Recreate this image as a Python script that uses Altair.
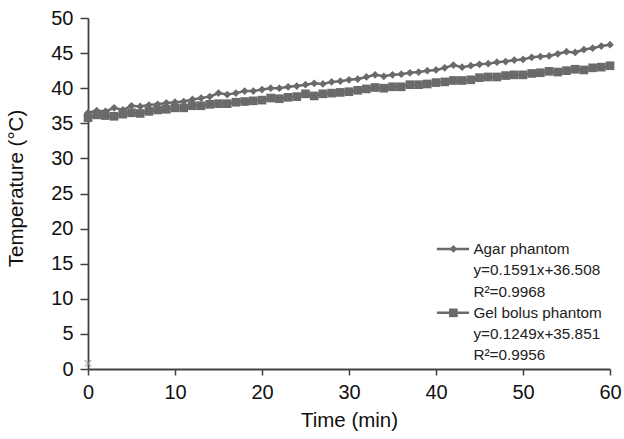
import altair as alt
import pandas as pd

time_min = list(range(0, 61))
agar = [36.5, 36.8, 36.7, 37.2, 36.9, 37.5, 37.4, 37.6, 37.7, 37.9,
        38.0, 38.1, 38.4, 38.6, 38.8, 39.3, 39.1, 39.3, 39.6, 39.6,
        39.8, 40.0, 40.0, 40.2, 40.3, 40.5, 40.7, 40.6, 40.9, 41.0,
        41.2, 41.3, 41.6, 41.9, 41.7, 41.9, 42.0, 42.2, 42.3, 42.5,
        42.6, 42.9, 43.3, 43.0, 43.2, 43.4, 43.5, 43.7, 43.8, 44.0,
        44.1, 44.4, 44.5, 44.6, 44.9, 45.2, 45.1, 45.5, 45.7, 46.0, 46.2]
gel = [35.8, 36.2, 36.1, 36.0, 36.3, 36.5, 36.4, 36.7, 36.9, 37.0,
       37.2, 37.2, 37.5, 37.5, 37.7, 37.8, 37.8, 38.0, 38.1, 38.2,
       38.3, 38.6, 38.5, 38.7, 38.8, 39.2, 38.9, 39.2, 39.3, 39.4,
       39.5, 39.7, 39.9, 40.1, 40.0, 40.2, 40.2, 40.5, 40.5, 40.6,
       40.8, 40.9, 41.1, 41.1, 41.2, 41.5, 41.6, 41.6, 41.8, 41.9,
       41.9, 42.1, 42.2, 42.4, 42.3, 42.5, 42.7, 42.6, 42.9, 43.0, 43.2]
series_names = ["Agar phantom", "Gel bolus phantom"]
equations = ["y=0.1591x+36.508", "y=0.1249x+35.851"]
r_squared = ["R\u00b2=0.9968", "R\u00b2=0.9956"]
x_ticks = [0, 10, 20, 30, 40, 50, 60]
y_ticks = [0, 5, 10, 15, 20, 25, 30, 35, 40, 45, 50]
stray_point = {"t": 0, "temp": 0.8}

GRAY = "#6a6a6a"
FONT = "Liberation Sans"

df = pd.DataFrame({
    "t": time_min * 2,
    "temp": agar + gel,
    "series": [series_names[0]] * len(agar) + [series_names[1]] * len(gel),
})

xs = alt.Scale(domain=[0, 60], nice=False, zero=False)
ys = alt.Scale(domain=[0, 50], nice=False)
shape_scale = alt.Scale(domain=series_names, range=["diamond", "square"])
size_scale = alt.Scale(domain=series_names, range=[60, 75])

x_enc = alt.X("t:Q", scale=xs, title="Time (min)",
              axis=alt.Axis(values=x_ticks, grid=False, tickSize=6,
                            labelFontSize=20, titleFontSize=20.5, labelPadding=7,
                            titlePadding=8, labelFlush=False, labelOverlap=False))
y_enc = alt.Y("temp:Q", scale=ys, title="Temperature (\u00b0C)",
              axis=alt.Axis(values=y_ticks, grid=False, tickSize=8,
                            labelFontSize=20, titleFontSize=20.5, labelPadding=7,
                            labelOverlap=False, labelFlush=False,
                            titleX=-72, titleY=170, titleAlign="center",
                            titleBaseline="middle", titleAngle=-90))

lines = alt.Chart(df).mark_line(color=GRAY, strokeWidth=2.5).encode(
    x=x_enc, y=y_enc, detail="series:N")
points = alt.Chart(df).mark_point(color=GRAY, filled=True, opacity=1).encode(
    x=x_enc, y=y_enc,
    shape=alt.Shape("series:N", scale=shape_scale, legend=None),
    size=alt.Size("series:N", scale=size_scale, legend=None))

stray = alt.Chart(pd.DataFrame([stray_point])).mark_point(
    shape="M-1,-1L1,1M-1,1L1,-1", size=40, color="#999999", filled=False,
    strokeWidth=1.5).encode(x=x_enc, y=y_enc)

# legend built in data space
leg_sym = pd.DataFrame({
    "t": [40.1, 43.8, 40.1, 43.8],
    "temp": [17.1, 17.1, 8.0, 8.0],
    "series": [series_names[0]] * 2 + [series_names[1]] * 2,
})
leg_pts = pd.DataFrame({"t": [42.0, 42.0], "temp": [17.1, 8.0], "series": series_names})
leg_txt = pd.DataFrame({
    "t": [44.3] * 6,
    "temp": [17.1, 14.1, 11.0, 8.0, 5.0, 2.0],
    "label": [series_names[0], equations[0], r_squared[0],
              series_names[1], equations[1], r_squared[1]],
})
leg_line = alt.Chart(leg_sym).mark_line(color=GRAY, strokeWidth=2.5).encode(
    x=x_enc, y=y_enc, detail="series:N")
leg_point = alt.Chart(leg_pts).mark_point(color=GRAY, filled=True, opacity=1).encode(
    x=x_enc, y=y_enc,
    shape=alt.Shape("series:N", scale=shape_scale, legend=None),
    size=alt.Size("series:N", scale=size_scale, legend=None))
leg_text = alt.Chart(leg_txt).mark_text(align="left", baseline="middle",
                                        fontSize=15.3, font=FONT, color="#222222").encode(
    x=x_enc, y=y_enc, text="label:N")

chart = alt.layer(lines, points, stray, leg_line, leg_point, leg_text).properties(
    width=522, height=351,
    autosize=alt.AutoSizeParams(type="none"),
    padding={"left": 88, "top": 18, "right": 14, "bottom": 70},
).configure_view(stroke=None).configure_axis(
    domainColor="#404040", domainWidth=1.8, tickColor="#404040", tickWidth=1.5,
    labelFont=FONT, titleFont=FONT, labelColor="#111111",
    titleColor="#111111", titleFontWeight="normal"
)

chart.save("out.html", embed_options={"renderer": "svg", "actions": False})
